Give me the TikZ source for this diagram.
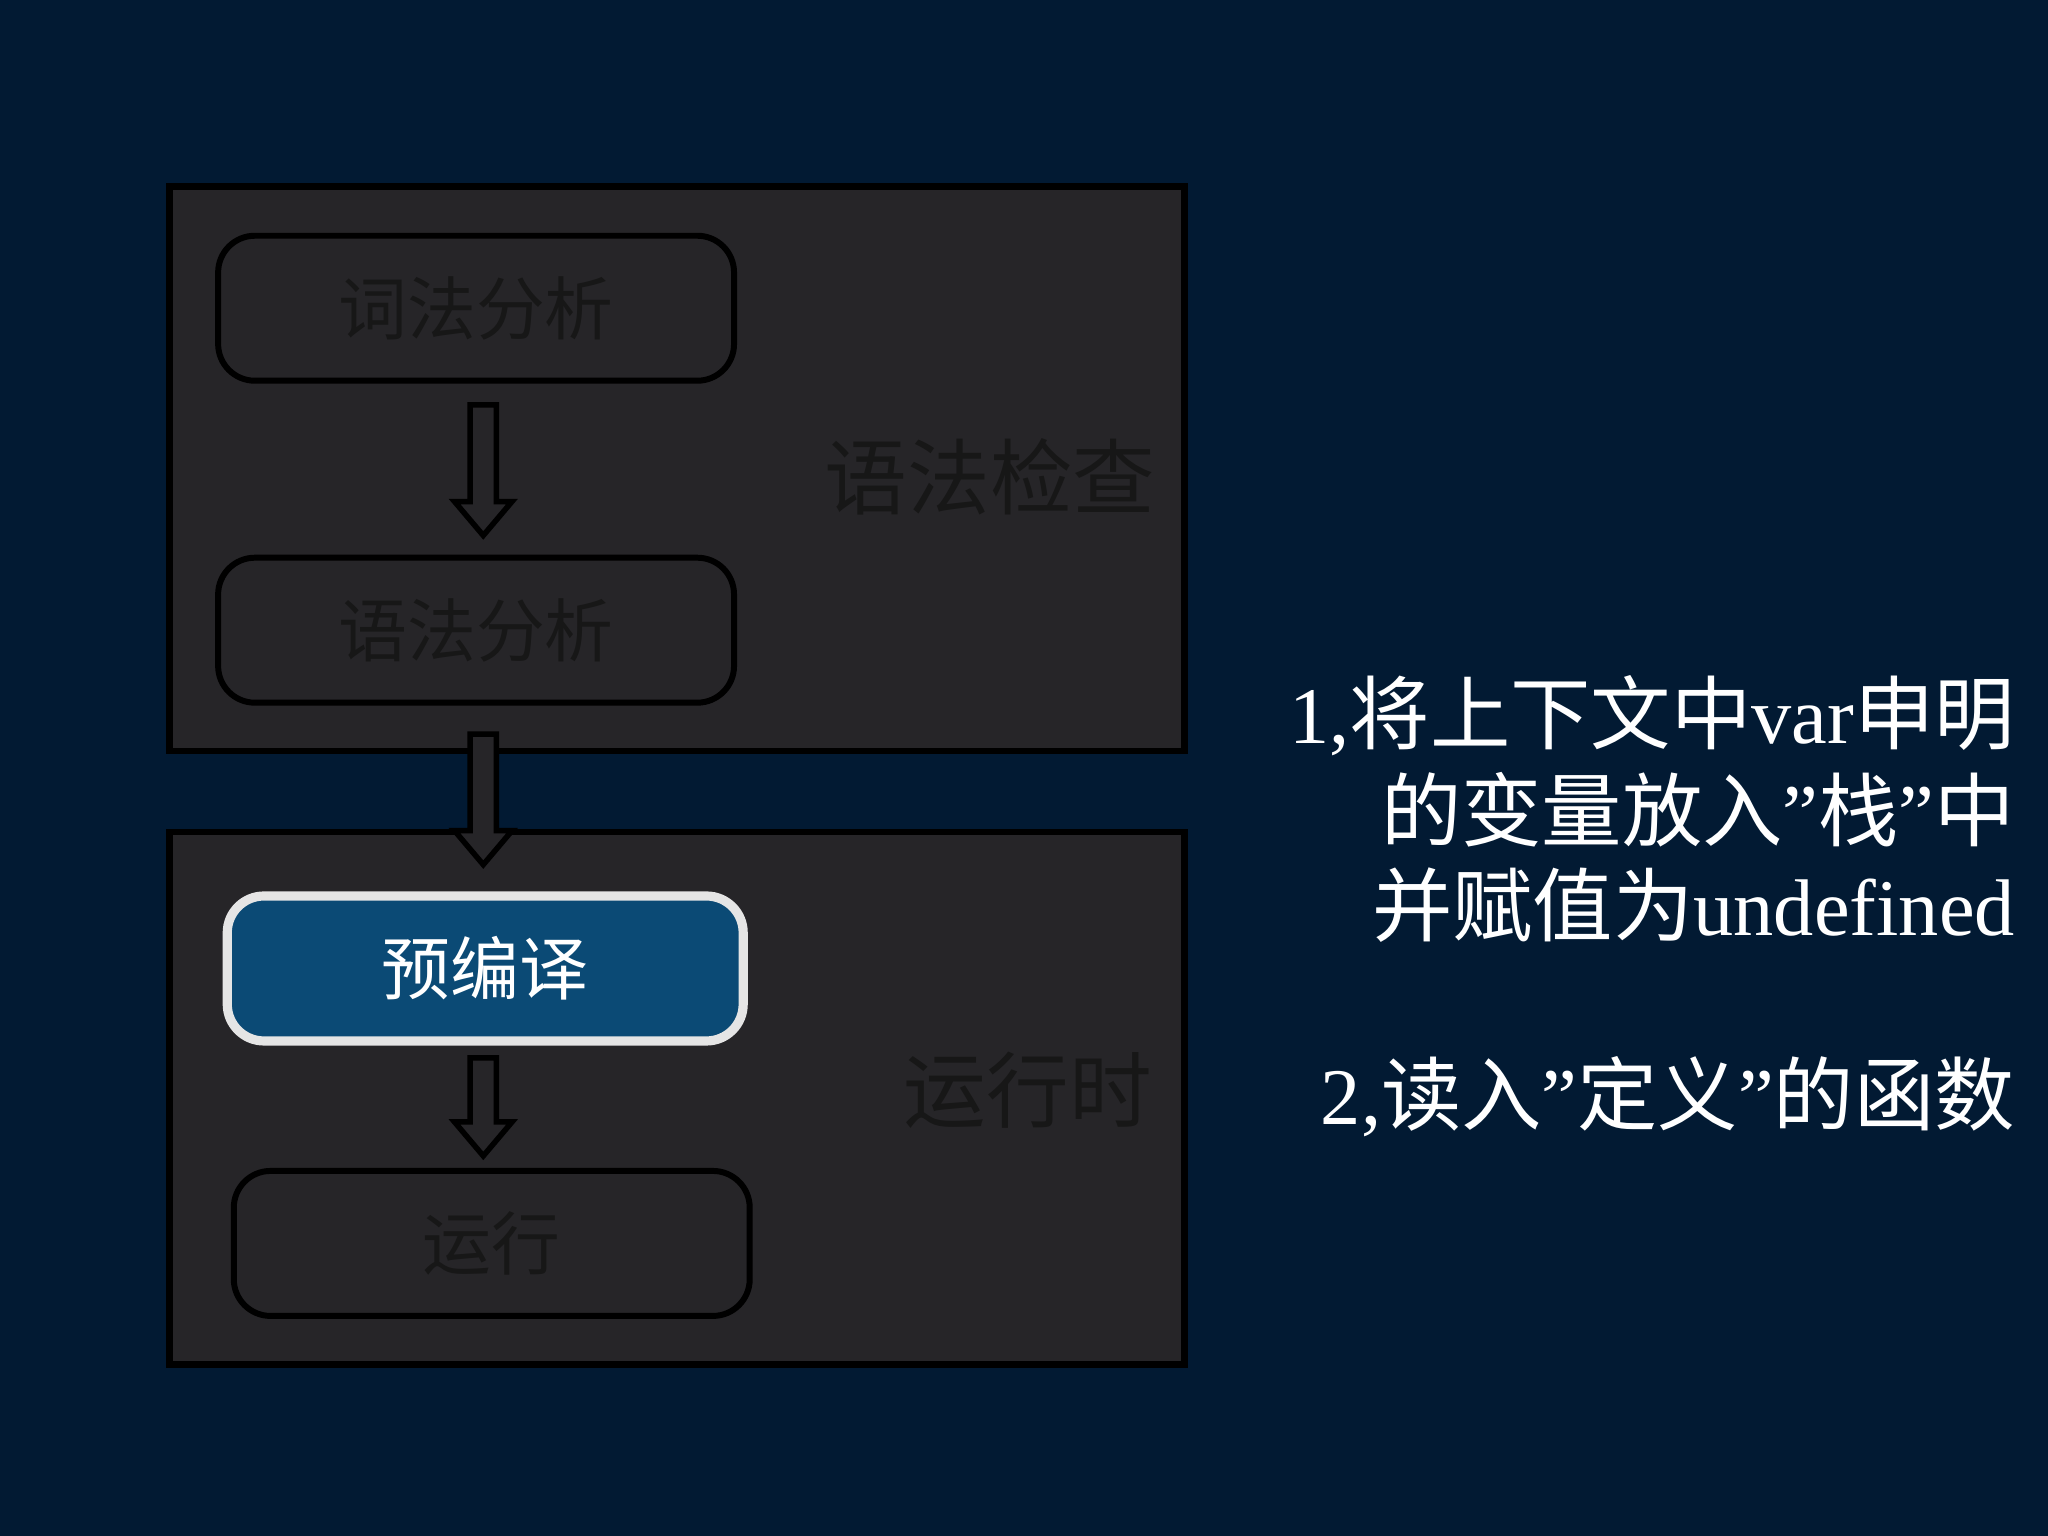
\documentclass[tikz,border=0pt]{standalone}
\usepackage{fontspec}
\setmainfont{Liberation Serif}
\newfontfamily\cjk{Noto Sans CJK SC}
\usetikzlibrary{calc}
\definecolor{bgnavy}{HTML}{021A33}
\definecolor{panel}{HTML}{262528}
\definecolor{dtext}{HTML}{171717}
\definecolor{blue1}{HTML}{0B4A75}
\tikzset{
 panelbox/.style={draw=black,line width=1.5pt,fill=panel},
 stepbox/.style={draw=black,line width=1.3pt,rounded corners=8pt,minimum width=3.95cm,minimum height=1.11cm,text=dtext,font=\cjk\fontsize{15}{18}\selectfont},
 hibox/.style={draw=white!80!gray,line width=2pt,rounded corners=8pt,fill=blue1,minimum width=3.95cm,minimum height=1.11cm,text=white,font=\cjk\fontsize{15}{18}\selectfont},
 harrow/.style={draw=black,line width=1.2pt,fill=panel},
 bigl/.style={text=dtext,font=\cjk\fontsize{18}{22}\selectfont},
 rtext/.style={text=white,align=right,anchor=east,font=\fontsize{17.5}{23}\selectfont}
}
\newcommand{\hollowarrow}[2]{%
 \path[harrow] ($(#1)+(-0.1,0)$) -- ($(#2)+(-0.1,-0.26)$) -- ($(#2)+(-0.22,-0.26)$) -- (#2) -- ($(#2)+(0.22,-0.26)$) -- ($(#2)+(0.1,-0.26)$) -- ($(#1)+(0.1,0)$) -- cycle;}
\begin{document}
\begin{tikzpicture}[x=1cm,y=-1cm]
\fill[bgnavy] (0,0) rectangle (15.68,11.76);
\useasboundingbox (0,0) rectangle (15.68,11.76);
\draw[panelbox] (1.30,1.43) rectangle (9.07,5.75);
\draw[panelbox] (1.30,6.37) rectangle (9.07,10.45);
\node[stepbox] (a) at (3.645,2.36) {词法分析};
\node[stepbox] (b) at (3.645,4.825) {语法分析};
\node[hibox] (c) at (3.715,7.415) {预编译};
\node[stepbox] (d) at (3.765,9.52) {运行};
\node[bigl] (l1) at (7.58,3.65) {语法检查};
\node[bigl] (l2) at (7.87,8.35) {运行时};
\coordinate (a1) at (3.70,3.10); \coordinate (a2) at (3.70,4.10);
\coordinate (b1) at (3.70,5.62); \coordinate (b2) at (3.70,6.62);
\coordinate (c1) at (3.70,8.10); \coordinate (c2) at (3.70,8.85);
\hollowarrow{a1}{a2}
\hollowarrow{b1}{b2}
\hollowarrow{c1}{c2}
\node[rtext] (t1) at (15.55,5.48) {1,{\cjk 将上下文中}var{\cjk 申明}};
\node[rtext] (t2) at (15.55,6.20) {{\cjk 的变量放入}”{\cjk 栈}”{\cjk 中}};
\node[rtext] (t3) at (15.55,6.93) {{\cjk 并赋值为}undefined};
\node[rtext] (t4) at (15.55,8.40) {2,{\cjk 读入}”{\cjk 定义}”{\cjk 的函数}};
\end{tikzpicture}
\end{document}
